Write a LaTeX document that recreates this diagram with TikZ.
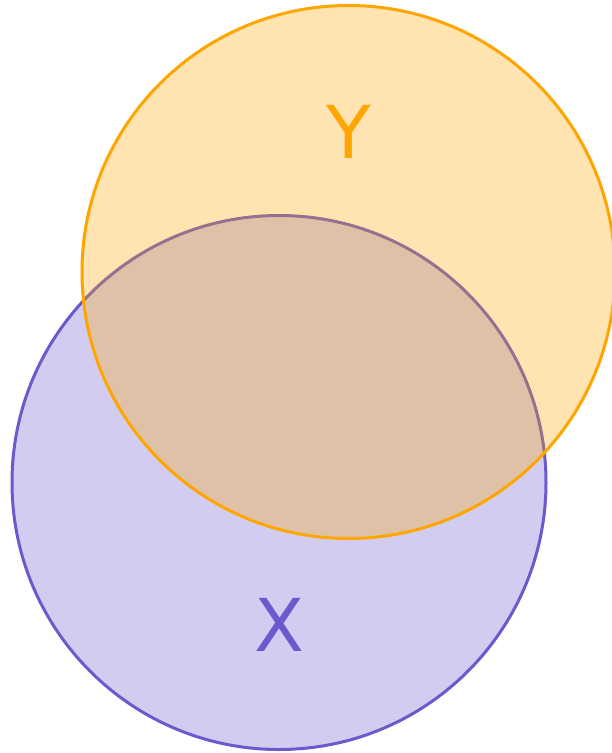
\documentclass[tikz,border=0pt]{standalone}
\usepackage{fontspec}
\setmainfont{DejaVu Sans}
\usepackage{tikz}
\usetikzlibrary{positioning,calc}
\definecolor{xedge}{HTML}{6A5ACD}
\definecolor{yedge}{HTML}{FFA500}

\begin{document}
\begin{tikzpicture}[x=1pt, y=-1pt,
    setx/.style={draw=xedge, fill=xedge, fill opacity=0.3, draw opacity=1, line width=3pt},
    sety/.style={draw=yedge, fill=yedge, fill opacity=0.3, draw opacity=1, line width=3pt},
    setlabel/.style={anchor=base, inner sep=0pt, font=\fontsize{73}{73}\selectfont}]
  \useasboundingbox (0,0) rectangle (611,753);

  % set X (drawn first, below)
  \coordinate (cx) at (279,482.5);
  \draw[setx] (cx) circle[radius=267];
  \node[setlabel, text=xedge] (labx) at (280,651) {X};

  % set Y (on top)
  \coordinate (cy) at (348.5,272);
  \draw[sety] (cy) circle[radius=266.5];
  \node[setlabel, text=yedge] (laby) at (349,158) {Y};
\end{tikzpicture}
\end{document}
